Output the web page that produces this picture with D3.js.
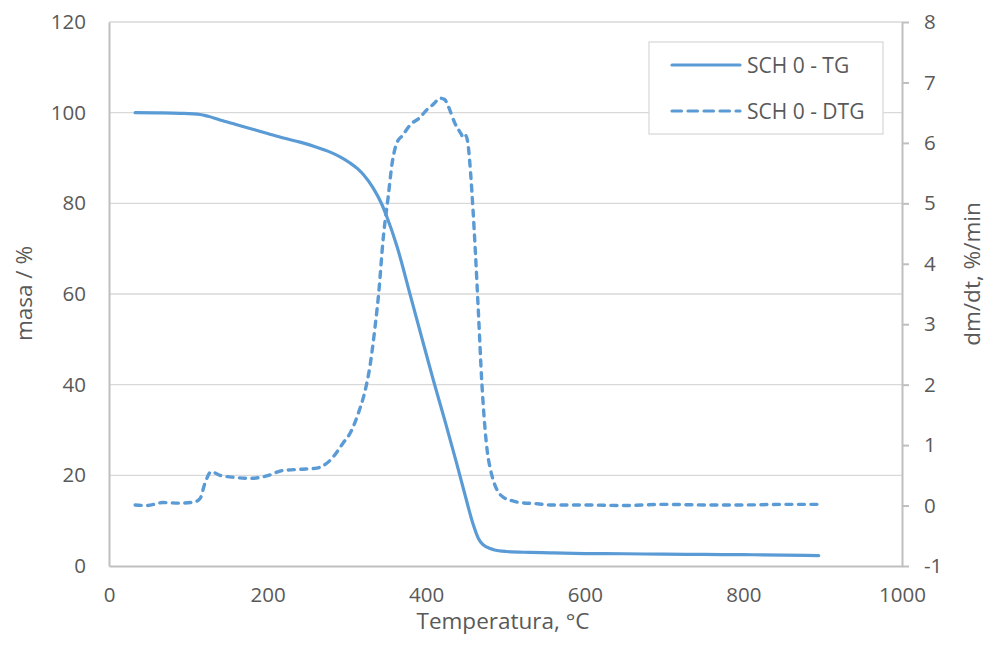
<!DOCTYPE html>
<html>
<head>
<meta charset="utf-8">
<script src="https://cdn.jsdelivr.net/npm/d3@7"></script>
<style>
  html, body { margin: 0; padding: 0; background: #fff; }
  svg { display: block; font-family: "Open Sans", "Liberation Sans", sans-serif; }
</style>
</head>
<body>
<svg id="chart" width="987" height="648"></svg>
<script>
// ---- data ----
const tgTemp = [33, 60, 90, 115, 125, 140, 160, 180, 200, 220, 241, 260, 279, 292, 304, 313, 321, 333, 344, 350, 363, 380, 395, 409, 424, 438, 450, 459, 466, 471, 476, 485, 501, 530, 556, 600, 650, 700, 750, 800, 850, 895];
const tgMass = [100, 99.95, 99.85, 99.6, 99.2, 98.4, 97.4, 96.4, 95.4, 94.4, 93.5, 92.5, 91.3, 90.2, 88.9, 87.7, 86.3, 83.4, 79.8, 77.2, 70.6, 59.7, 50, 41, 31.8, 22.9, 15, 9.3, 6.0, 4.8, 4.2, 3.6, 3.2, 3.0, 2.9, 2.75, 2.7, 2.6, 2.55, 2.5, 2.4, 2.3];

const dtgTemp = [33, 48, 68, 90, 108, 115, 121, 129, 140, 156, 178, 199, 219, 241, 262, 279, 295, 305, 315, 322, 329, 335, 340, 346, 352, 357, 363, 370, 380, 392, 401, 410, 417, 423, 428, 436, 444, 447, 450, 453, 456, 459, 462, 466, 470, 474, 477, 481, 485, 491, 497, 508, 518, 540, 556, 600, 650, 700, 750, 800, 850, 893];
const dtgRate = [0.01, 0, 0.05, 0.04, 0.06, 0.12, 0.37, 0.56, 0.5, 0.47, 0.45, 0.49, 0.58, 0.6, 0.62, 0.75, 1.03, 1.22, 1.55, 1.85, 2.3, 2.9, 3.5, 4.45, 5.1, 5.66, 6.0, 6.12, 6.3, 6.42, 6.55, 6.65, 6.74, 6.72, 6.6, 6.33, 6.15, 6.08, 6.12, 5.95, 5.5, 4.9, 4.2, 3.15, 2.07, 1.3, 0.9, 0.6, 0.4, 0.22, 0.14, 0.08, 0.05, 0.03, 0.01, 0.01, 0.0, 0.02, 0.01, 0.01, 0.02, 0.02];

const xTicks = [0, 200, 400, 600, 800, 1000];
const leftTicks = [0, 20, 40, 60, 80, 100, 120];
const rightTicks = [-1, 0, 1, 2, 3, 4, 5, 6, 7, 8];
const seriesNames = ["SCH 0 - TG", "SCH 0 - DTG"];
const xTitle = "Temperatura, °C";
const leftTitle = "masa / %";
const rightTitle = "dm/dt, %/min";

// ---- layout ----
const plot = { left: 109, right: 902, top: 22, bottom: 566 };
const lineColor = "#5B9BD5";
const textColor = "#595959";
const axisColor = "#BFBFBF";
const gridColor = "#D9D9D9";
const tickFont = "20.5px";
const titleFont = "22.5px";

const svg = d3.select("#chart");

const x = d3.scaleLinear().domain([0, 1000]).range([plot.left, plot.right]);
const yL = d3.scaleLinear().domain([0, 120]).range([plot.bottom, plot.top]);
const yR = d3.scaleLinear().domain([-1, 8]).range([plot.bottom, plot.top]);

// gridlines
svg.append("g").selectAll("line").data(leftTicks.filter(d => d !== 0)).join("line")
  .attr("x1", plot.left).attr("x2", plot.right)
  .attr("y1", d => yL(d)).attr("y2", d => yL(d))
  .attr("stroke", gridColor).attr("stroke-width", 1.3);

// bottom axis
const gx = svg.append("g").attr("transform", `translate(0,${plot.bottom})`)
  .call(d3.axisBottom(x).tickValues(xTicks).tickSize(0).tickFormat(d => String(d)));
gx.select(".domain").attr("stroke", axisColor).attr("stroke-width", 2);
gx.selectAll("text").attr("y", 36).attr("dy", "0")
  .attr("fill", textColor).style("font-size", tickFont).style("font-family", '"Open Sans", sans-serif');

// left axis
const gl = svg.append("g").attr("transform", `translate(${plot.left},0)`)
  .call(d3.axisLeft(yL).tickValues(leftTicks).tickSize(0).tickPadding(23).tickFormat(d => String(d)));
gl.select(".domain").attr("stroke", axisColor).attr("stroke-width", 2);
gl.selectAll("text").attr("fill", textColor).style("font-size", tickFont).style("font-family", '"Open Sans", sans-serif');

// right axis (hyphen-minus, as in the reference)
const gr = svg.append("g").attr("transform", `translate(${plot.right},0)`)
  .call(d3.axisRight(yR).tickValues(rightTicks).tickSizeOuter(0).tickSizeInner(7).tickPadding(15)
    .tickFormat(d => String(d)));
gr.select(".domain").attr("stroke", axisColor).attr("stroke-width", 2);
gr.selectAll(".tick line").attr("stroke", axisColor).attr("stroke-width", 2);
gr.selectAll("text").attr("fill", textColor).style("font-size", tickFont).style("font-family", '"Open Sans", sans-serif');

// lines
const tgData = tgTemp.map((t, i) => [t, tgMass[i]]);
const dtgData = dtgTemp.map((t, i) => [t, dtgRate[i]]);

svg.append("path").datum(tgData)
  .attr("fill", "none").attr("stroke", lineColor).attr("stroke-width", 3.2)
  .attr("stroke-linejoin", "round").attr("stroke-linecap", "round")
  .attr("d", d3.line().x(d => x(d[0])).y(d => yL(d[1])).curve(d3.curveMonotoneX));

svg.append("path").datum(dtgData)
  .attr("fill", "none").attr("stroke", lineColor).attr("stroke-width", 3.4)
  .attr("stroke-linejoin", "round").attr("stroke-linecap", "round")
  .attr("stroke-dasharray", "6,6.5")
  .attr("d", d3.line().x(d => x(d[0])).y(d => yR(d[1])).curve(d3.curveMonotoneX));

// titles
svg.append("text").attr("x", 503).attr("y", 629).attr("text-anchor", "middle")
  .attr("fill", textColor).style("font-size", titleFont).text(xTitle);
svg.append("text").attr("transform", "translate(32,293.5) rotate(-90)").attr("text-anchor", "middle")
  .attr("fill", textColor).style("font-size", titleFont).text(leftTitle);
svg.append("text").attr("transform", "translate(980,274) rotate(-90)").attr("text-anchor", "middle")
  .attr("fill", textColor).style("font-size", titleFont).text(rightTitle);

// legend
const lg = svg.append("g");
lg.append("rect").attr("x", 649).attr("y", 42).attr("width", 234).attr("height", 92)
  .attr("fill", "#fff").attr("stroke", gridColor).attr("stroke-width", 1.3);
const legendRows = [
  { name: seriesNames[0], y: 65, dash: null },
  { name: seriesNames[1], y: 111, dash: "9.5,6.5" }
];
legendRows.forEach(r => {
  lg.append("line").attr("x1", 672).attr("x2", 740).attr("y1", r.y).attr("y2", r.y)
    .attr("stroke", lineColor).attr("stroke-width", 3.2).attr("stroke-linecap", "round")
    .attr("stroke-dasharray", r.dash);
  lg.append("text").attr("x", 747).attr("y", r.y).attr("dy", "0.36em")
    .attr("fill", textColor).style("font-size", "21px").text(r.name);
});
</script>
</body>
</html>
